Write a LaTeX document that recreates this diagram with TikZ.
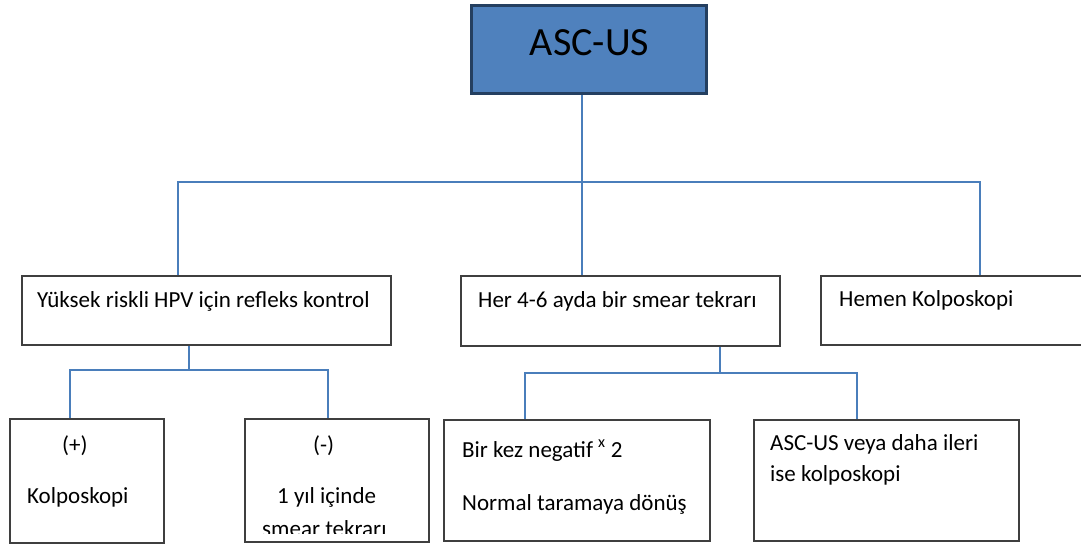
\documentclass[tikz,border=0pt]{standalone}
\usepackage{fontspec}
\setmainfont{Carlito}
\definecolor{topfill}{HTML}{4F81BD}
\definecolor{topborder}{HTML}{243F60}
\definecolor{conncol}{HTML}{4A7EBB}
\definecolor{boxborder}{HTML}{3F3F3F}
\tikzset{
  box/.style={draw=boxborder, line width=1.5pt, fill=white, inner sep=0pt, rectangle},
  topbox/.style={draw=topborder, line width=3pt, fill=topfill, inner sep=0pt, rectangle},
  conn/.style={draw=conncol, line width=1.2pt},
  txt/.style={anchor=base west, inner sep=0pt, font=\fontsize{23}{27}\selectfont, text=black},
}
\begin{document}
\begin{tikzpicture}[x=1pt,y=-1pt]
\useasboundingbox (0,0) rectangle (1081,544);
\clip (0,0) rectangle (1081,544);
% boxes
\node[topbox, minimum width=235pt, minimum height=88pt] (top) at (589,49.5) {};
\node[anchor=base, inner sep=0pt, font=\fontsize{40}{46}\selectfont] (toptxt) at (589.5,55) {ASC-US};
\node[box, minimum width=369pt, minimum height=69pt] (b1) at (206.5,310.5) {};
\node[box, minimum width=319pt, minimum height=70pt] (b2) at (620.5,311) {};
\node[box, minimum width=280pt, minimum height=69pt] (b3) at (961,310.5) {};
\node[box, minimum width=154pt, minimum height=124pt] (b4) at (87,481) {};
\node[box, minimum width=184pt, minimum height=123pt] (b5) at (337,480.5) {};
\node[box, minimum width=266pt, minimum height=121pt] (b6) at (577,480.5) {};
\node[box, minimum width=265pt, minimum height=121pt] (b7) at (886.5,480.5) {};
% junctions
\coordinate (j1) at (582,182);
\coordinate (j2) at (189,370);
\coordinate (j3) at (720,373);
% connectors
\draw[conn] (582,0 |- top.south) -- (j1);
\draw[conn] (178,0 |- b1.north) |- (j1) -| (980,0 |- b3.north);
\draw[conn] (j1) -- (582,0 |- b2.north);
\draw[conn] (189,0 |- b1.south) -- (j2);
\draw[conn] (70,0 |- b4.north) |- (j2) -| (328,0 |- b5.north);
\draw[conn] (720,0 |- b2.south) -- (j3);
\draw[conn] (525,0 |- b6.north) |- (j3) -| (857,0 |- b7.north);
% texts
\node[txt] (t1) at (37,307) {Yüksek riskli HPV için refleks kontrol};
\node[txt] (t2) at (478,307) {Her 4-6 ayda bir smear tekrarı};
\node[txt] (t3) at (839,306) {Hemen Kolposkopi};
\node[txt] (t4a) at (62,452) {(+)};
\node[txt] (t4b) at (27,503) {Kolposkopi};
\node[txt] (t5a) at (313,452) {(-)};
\node[txt] (t5b) at (277,503) {1 yıl içinde};
\begin{scope}
\clip (245,419) rectangle (429,533);
\node[txt] (t5c) at (262,536) {smear tekrarı};
\end{scope}
\node[txt] (t6a) at (462,457) {Bir kez negatif \textsuperscript{x} 2};
\node[txt] (t6b) at (462,510) {Normal taramaya dönüş};
\node[txt] (t7a) at (770,450) {ASC-US veya daha ileri};
\node[txt] (t7b) at (770,481) {ise kolposkopi};
\end{tikzpicture}
\end{document}
